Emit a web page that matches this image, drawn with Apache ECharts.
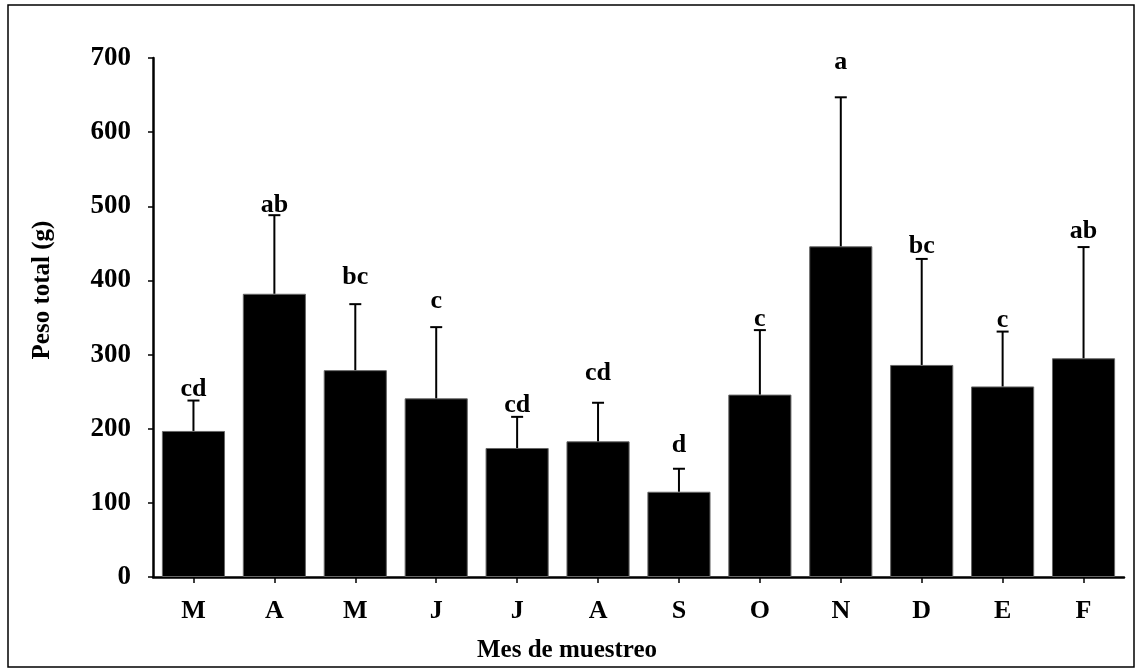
<!DOCTYPE html>
<html>
<head>
<meta charset="utf-8">
<script src="https://cdn.jsdelivr.net/npm/echarts@6/dist/echarts.min.js"></script>
<style>
html,body{margin:0;padding:0;background:#fff;}
#c{width:1140px;height:672px;}
</style>
</head>
<body>
<div id="c"></div>
<script>
const categories = ['M','A','M','J','J','A','S','O','N','D','E','F'];
const means = [197,382,279,241,174,183,115,246,446,286,257,295];
const upper = [238,488,368,337,216,235,146,333,647,429,331,445];
const letters = ['cd','ab','bc','c','cd','cd','d','c','a','bc','c','ab'];
const letterY = [243,490,393,361,221,264,167,337,684,435,335,456];
const yTicks = [0,100,200,300,400,500,600,700];

const FONT = '"Liberation Serif", "Times New Roman", serif';
const chart = echarts.init(document.getElementById('c'), null, {renderer:'canvas'});

const errData = categories.map((c,i)=>[i, means[i], upper[i], letterY[i]]);

chart.setOption({
  animation:false,
  backgroundColor:'#fff',
  grid:{left:153, right:16, top:58, bottom:95, containLabel:false},
  xAxis:{
    type:'category', data:categories,
    axisLine:{lineStyle:{color:'#000', width:2.5}},
    axisTick:{show:true, alignWithLabel:true, length:6, lineStyle:{color:'#000', width:1.5}},
    axisLabel:{color:'#000', fontFamily:FONT, fontWeight:'bold', fontSize:26, margin:21},
    splitLine:{show:false}
  },
  yAxis:{
    type:'value', min:yTicks[0], max:yTicks[yTicks.length-1], interval:100,
    axisLine:{show:true, lineStyle:{color:'#000', width:2.5}},
    axisTick:{show:true, length:5, lineStyle:{color:'#000', width:1.5}},
    axisLabel:{color:'#000', fontFamily:FONT, fontWeight:'bold', fontSize:27, margin:22},
    splitLine:{show:false}
  },
  graphic:[
    {type:'rect', shape:{x:8, y:5, width:1126, height:662}, style:{fill:null, stroke:'#000', lineWidth:1.5}, silent:true, z:-1},
    {type:'text', x:567, y:651, style:{text:'Mes de muestreo', font:'bold 25px '+FONT, fill:'#000', textAlign:'center', textVerticalAlign:'middle'}},
    {type:'text', x:43, y:290, rotation:Math.PI/2, style:{text:'Peso total (g)', font:'bold 25px '+FONT, fill:'#000', textAlign:'center', textVerticalAlign:'middle'}}
  ],
  series:[
    {
      type:'bar', data:means, barWidth:'78%',
      itemStyle:{color:'#000', borderColor:'#666', borderWidth:1},
      z:2
    },
    {
      type:'custom', data:errData, z:3,
      renderItem:function(params, api){
        const x = api.value(0);
        const top = api.coord([x, api.value(1)]);
        const up = api.coord([x, api.value(2)]);
        const lab = api.coord([x, api.value(3)]);
        const hw = 6;
        return {type:'group', children:[
          {type:'line', shape:{x1:top[0], y1:top[1], x2:up[0], y2:up[1]}, style:{stroke:'#000', lineWidth:2}},
          {type:'line', shape:{x1:up[0]-hw, y1:up[1], x2:up[0]+hw, y2:up[1]}, style:{stroke:'#000', lineWidth:2}},
          {type:'text', x:lab[0], y:lab[1]+5, style:{text:letters[params.dataIndex], font:'bold 26px '+FONT, fill:'#000', textAlign:'center', textVerticalAlign:'bottom'}}
        ]};
      }
    }
  ]
});
</script>
</body>
</html>
